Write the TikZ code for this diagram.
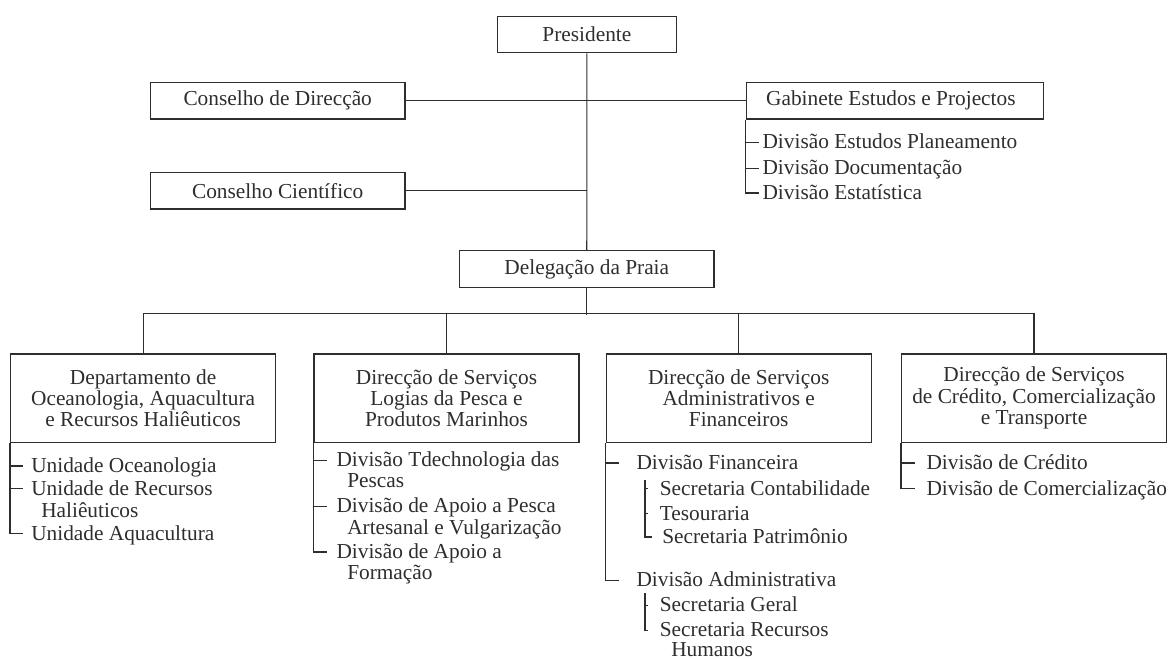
\documentclass[tikz,border=0pt]{standalone}
\usepackage{fontspec}
\setmainfont{Liberation Serif}
\usetikzlibrary{calc}

\begin{document}
\begin{tikzpicture}[x=0.75pt,y=0.75pt,yscale=-1,xscale=1,line width=0.85pt,color=black!82,
  orgbox/.style={draw, minimum height=27.6pt, inner sep=0pt, font=\fontsize{16}{16}\selectfont},
  deptbox/.style={draw, minimum width=198.75pt, minimum height=66.2pt, inner sep=0pt, align=center, font=\fontsize{16}{16}\selectfont},
  divitem/.style={anchor=west, inner sep=0pt, text height=9.45pt, text depth=0pt, font=\fontsize{16}{16}\selectfont}]
  \useasboundingbox (0,0) rectangle (1172,659);

  % Top of the chart
  \node[orgbox, minimum width=134.1pt] (pres) at (586.9,34.5) {Presidente};
  \node[orgbox, minimum width=191pt] (cdir) at (277.7,100.65) {Conselho de Direcção};
  \node[orgbox, minimum width=191pt] (ccie) at (277.7,190.65) {Conselho Científico};
  \node[orgbox, minimum width=223.1pt] (gab) at (894.85,100.65) {Gabinete Estudos e Projectos\hspace*{6pt}};
  \node[orgbox, minimum width=190.8pt] (deleg) at (586.8,269) {Delegação da Praia};

  % Gabinete divisions
  \node[divitem] (gdp) at (762,142.7) {Divisão Estudos Planeamento};
  \node[divitem] (gdd) at (762,168.3) {Divisão Documentação};
  \node[divitem] (gde) at (762,193) {Divisão Estatística};

  % Departments
  \node[deptbox] (doar) at (143.1,398.2) {Departamento de\\Oceanologia, Aquacultura\\e Recursos Haliêuticos};
  \node[deptbox] (dslp) at (446.5,398.2) {Direcção de Serviços\\Logias da Pesca e\\Produtos Marinhos};
  \node[deptbox] (dsaf) at (738.7,398.2) {Direcção de Serviços\\Administrativos e\\Financeiros};
  \node[deptbox] (dsct) at (1034,398.2) {Direcção de Serviços\\de Crédito, Comercialização\\e Transporte};

  % Units and divisions
  \node[divitem] (uoc) at (30.7,466) {Unidade Oceanologia};
  \node[divitem] (urh) at (30.7,488.7) {Unidade de Recursos};
  \node[divitem] (urh2) at (40.7,511) {Haliêuticos};
  \node[divitem] (uaq) at (30.7,533.7) {Unidade Aquacultura};

  \node[divitem] (dtp) at (336,460.5) {Divisão Tdechnologia das};
  \node[divitem] (dtp2) at (346.7,481.3) {Pescas};
  \node[divitem] (dap) at (336,506.3) {Divisão de Apoio a Pesca};
  \node[divitem] (dap2) at (346.7,528) {Artesanal e Vulgarização};
  \node[divitem] (daf) at (336,552) {Divisão de Apoio a};
  \node[divitem] (daf2) at (346.7,573) {Formação};

  \node[divitem] (dfin) at (636,463) {Divisão Financeira};
  \node[divitem] (scon) at (659.3,488.7) {Secretaria Contabilidade};
  \node[divitem] (stes) at (659.3,513.7) {Tesouraria};
  \node[divitem] (spat) at (661.7,537) {Secretaria Patrimônio};
  \node[divitem] (dadm) at (636,580.3) {Divisão Administrativa};
  \node[divitem] (sger) at (659.3,605.3) {Secretaria Geral};
  \node[divitem] (srh) at (659.3,630.3) {Secretaria Recursos};
  \node[divitem] (srh2) at (670.7,650.3) {Humanos};

  \node[divitem] (dcre) at (926,463) {Divisão de Crédito};
  \node[divitem] (dcom) at (926,488.7) {Divisão de Comercialização};

  % Connectors
  \draw (pres) -- (deleg);
  \draw (cdir) -- (gab);
  \draw (ccie.east) -- (ccie.east -| pres.south);
  \coordinate (bar) at (586.8,313.3);
  \coordinate (barend) at (586.8,315);
  \draw (deleg) -- (barend);
  \draw (doar.north) |- (bar) -| (dsct.north);
  \draw (dslp.north) -- (dslp.north |- bar);
  \draw (dsaf.north) -- (dsaf.north |- bar);

  \draw (gab.south west) |- ($(gde.west)+(-2.7,0)$);
  \foreach \n in {gdp,gdd}
    \draw (gab.south west |- \n.west) -- ($(\n.west)+(-2.7,0)$);

  \draw (doar.south west) |- ($(uaq.west)+(-8,0)$);
  \foreach \n in {uoc,urh}
    \draw (doar.south west |- \n.west) -- ($(\n.west)+(-8,0)$);

  \draw (dslp.south west) |- ($(daf.west)+(-8.7,0)$);
  \foreach \n in {dtp,dap}
    \draw (dslp.south west |- \n.west) -- ($(\n.west)+(-8.7,0)$);

  \draw (dsaf.south west) |- ($(dadm.west)+(-16.7,0)$);
  \draw (dsaf.south west |- dfin.west) -- ($(dfin.west)+(-16.7,0)$);
  \coordinate (fin) at ($(dfin.west)+(9,17)$);
  \draw (fin) |- ($(spat.west)+(-10,0)$);
  \foreach \n in {scon,stes}
    \draw (fin |- \n.west) -- ($(\n.west)+(-11,0)$);
  \coordinate (adm) at ($(dadm.west)+(9,13)$);
  \draw (adm) |- ($(srh.west)+(-11,0)$);
  \draw (adm |- sger.west) -- ($(sger.west)+(-11,0)$);

  \draw (dsct.south west) |- ($(dcom.west)+(-11,0)$);
  \draw (dsct.south west |- dcre.west) -- ($(dcre.west)+(-11,0)$);
\end{tikzpicture}
\end{document}
